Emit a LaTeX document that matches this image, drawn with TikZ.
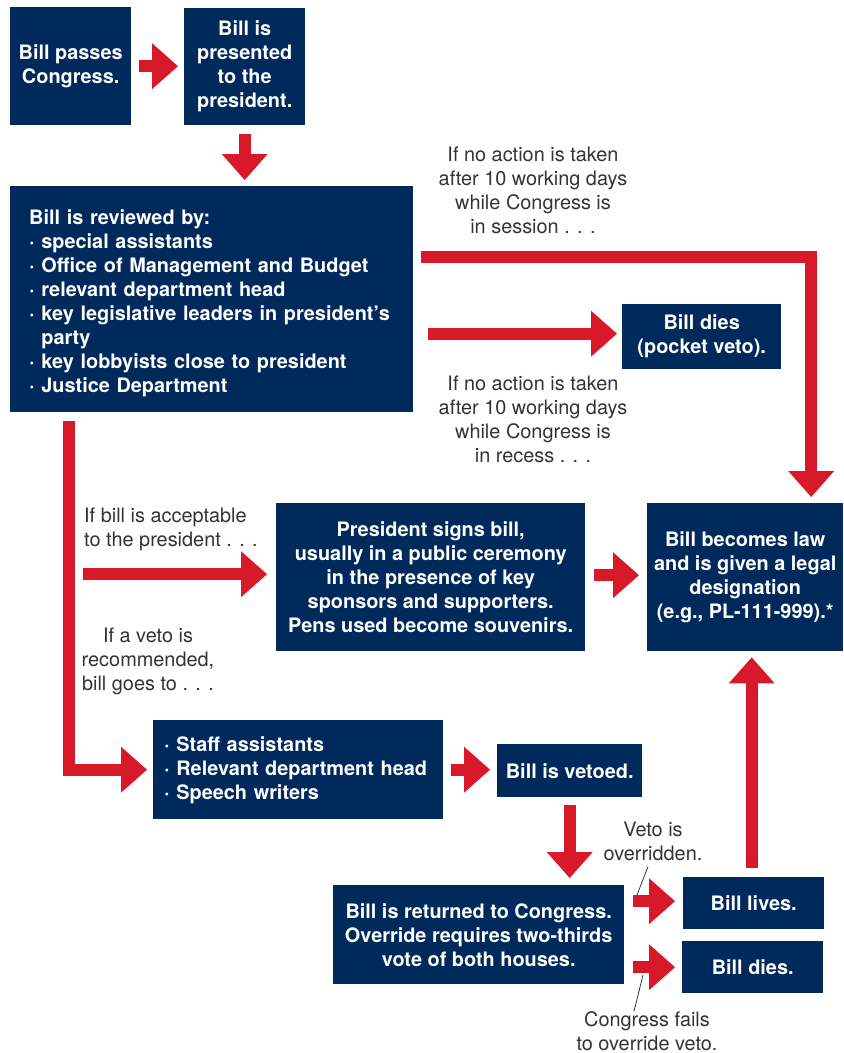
\documentclass[tikz,border=0pt]{standalone}
\usepackage{fontspec}
\setmainfont{TeX Gyre Heros}
\usetikzlibrary{arrows.meta,calc}
\definecolor{navy}{HTML}{002A5C}
\definecolor{flowred}{HTML}{D7192A}
\definecolor{labelgray}{HTML}{333333}

\begin{document}
\begin{tikzpicture}[x=1pt,y=-1pt,
  box/.style={fill=navy,text=white,font=\bfseries\fontsize{19.9}{24}\selectfont,
    align=center,inner sep=0pt,anchor=north west},
  note/.style={text=labelgray,font=\fontsize{19.9}{24}\selectfont,align=center,inner sep=0pt},
  bigarrow/.style={draw=flowred,line width=12pt,
    -{Triangle[width=46pt,length=26pt,line width=0pt]}},
  leader/.style={draw=labelgray,line width=0.8pt}]

\useasboundingbox (0,0) rectangle (844,1053);

% ---- boxes ----
\node[box,minimum width=121pt,minimum height=118pt] (passes) at (10,7) {Bill passes\\Congress.};
\node[box,minimum width=121pt,minimum height=117pt] (presented) at (184,8)
  {Bill is\\presented\\to the\\president.};
\node[box,align=left,text width=365pt,inner xsep=19pt,minimum height=226pt] (review) at (10,186)
  {\rule{0pt}{22pt}Bill is reviewed by:\\
   · special assistants\\
   · Office of Management and Budget\\
   · relevant department head\\
   · key legislative leaders in president’s\\
   \phantom{· }party\\
   · key lobbyists close to president\\
   · Justice Department};
\node[box,minimum width=159pt,minimum height=65pt] (pocket) at (622,304) {Bill dies\\(pocket veto).};
\node[box,minimum width=309pt,minimum height=148pt] (sign) at (276,503)
  {President signs bill,\\usually in a public ceremony\\in the presence of key\\sponsors and supporters.\\Pens used become souvenirs.};
\node[box,minimum width=196pt,minimum height=148pt] (law) at (647,503)
  {Bill becomes law\\and is given a legal\\designation\\(e.g., PL-111-999).*};
\node[box,align=left,text width=268pt,inner xsep=11pt,minimum height=99pt] (staff) at (153,720)
  {\rule{0pt}{16pt}· Staff assistants\\· Relevant department head\\· Speech writers};
\node[box,minimum width=145pt,minimum height=53pt] (vetoed) at (497,744) {Bill is vetoed.};
\node[box,minimum width=291pt,minimum height=99pt] (returned) at (333,885)
  {Bill is returned to Congress.\\Override requires two-thirds\\vote of both houses.};
\node[box,minimum width=141pt,minimum height=52pt] (lives) at (683,877) {Bill lives.};
\node[box,minimum width=141pt,minimum height=52pt] (dies) at (682,941) {Bill dies.};

% ---- condition labels ----
\node[note] (session) at (533,190) {If no action is taken\\after 10 working days\\while Congress is\\in session . . .};
\node[note] (recess) at (533,419) {If no action is taken\\after 10 working days\\while Congress is\\in recess . . .};
\node[note,align=left,anchor=west] (accept) at (84,529.5) {If bill is acceptable\\to the president . . .};
\node[note] (vetonote) at (148,661) {If a veto is\\recommended,\\bill goes to . . .};
\node[note] (ovr) at (653,841) {Veto is\\overridden.};
\node[note] (fails) at (647,1031) {Congress fails\\to override veto.};

% ---- flow arrows ----
\draw[bigarrow] ([xshift=8pt]passes.east) -- ([xshift=-6pt]passes.east -| presented.west);
\draw[bigarrow] ([yshift=-9pt]presented.south) -- ([yshift=6pt]presented.south |- review.north);
\draw[bigarrow] ([xshift=8pt,yshift=-71pt]review.north east) -| ([xshift=66pt,yshift=6pt]law.north);
\draw[bigarrow] ([xshift=15pt,yshift=3pt]review.east |- pocket.west) -- ([xshift=-5pt,yshift=3pt]pocket.west);
\draw[bigarrow] ([xshift=59pt,yshift=-9pt]review.south west) |- ([xshift=-6pt]staff.west);
\draw[bigarrow] ([xshift=73pt,yshift=3pt]review.south west |- sign.west) -- ([xshift=-9pt,yshift=3pt]sign.west);
\draw[bigarrow] ([xshift=9pt,yshift=2pt]sign.east) -- ([xshift=-8pt,yshift=2pt]law.west);
\draw[bigarrow] ([xshift=8pt]staff.east) -- ([xshift=-7pt]staff.east -| vetoed.west);
\draw[bigarrow] ([yshift=-8pt]vetoed.south) -- ([yshift=7pt]vetoed.south |- returned.north);
\draw[bigarrow] ([xshift=9pt,yshift=2pt]returned.east |- lives.west) -- ([xshift=-8pt,yshift=2pt]lives.west);
\draw[bigarrow] ([xshift=9pt]returned.east |- dies.west) -- ([xshift=-7pt]dies.west);
\draw[bigarrow] ([xshift=-2pt,yshift=9pt]lives.north) -- ([xshift=-2pt,yshift=-6pt]lives.north |- law.south);

% ---- leader lines ----
\coordinate (ovrfoot) at (637,895);
\coordinate (failsfoot) at (643,975);
\draw[leader] ([xshift=-5pt,yshift=-6pt]ovr.south) -- (ovrfoot);
\draw[leader] (failsfoot) -- ([xshift=-13pt]fails.north);
\end{tikzpicture}
\end{document}
